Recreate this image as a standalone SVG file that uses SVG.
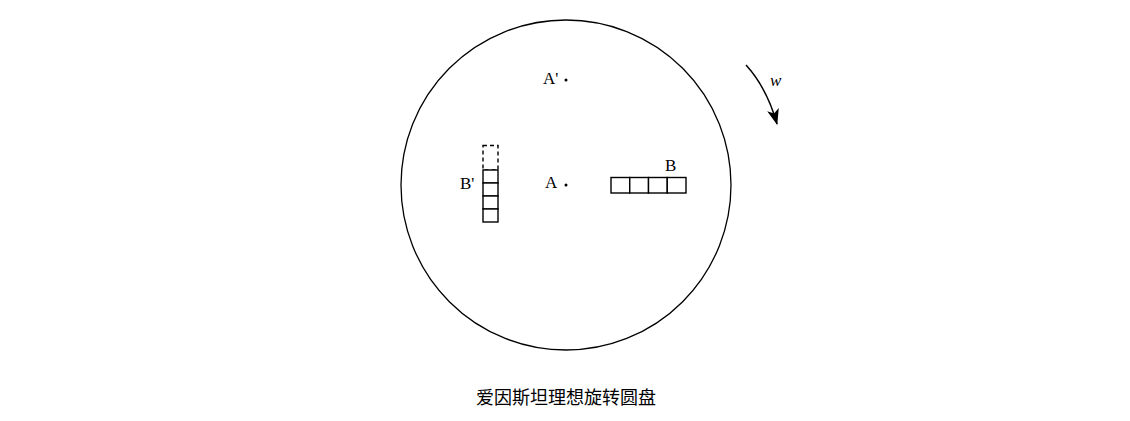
<svg xmlns="http://www.w3.org/2000/svg" width="1130" height="421" viewBox="0 0 1130 421">
<style>
.l{font-family:"Liberation Serif","DejaVu Serif",serif;font-size:17px;fill:#000}
.s{fill:#fff;stroke:#000;stroke-width:1.4}
.d{fill:none;stroke:#000;stroke-width:1.4;stroke-dasharray:4,3}
</style>
<defs>
<marker id="ah" viewBox="0 0 16 12" refX="15" refY="6" markerWidth="16" markerHeight="12" markerUnits="userSpaceOnUse" orient="auto">
<path d="M0,0 L16,6 L0,12 L4,6 Z" fill="#000"/>
</marker>
</defs>
<rect width="1130" height="421" fill="#fff"/>
<g id="disk">
<circle cx="566" cy="185" r="165" fill="none" stroke="#000" stroke-width="1.3"/>
</g>
<g id="pointA1">
<text class="l" x="543" y="84">A'</text>
<circle cx="566" cy="80" r="1.5" fill="#000"/>
</g>
<g id="pointA">
<text class="l" x="545" y="188">A</text>
<circle cx="566" cy="185" r="1.5" fill="#000"/>
</g>
<g id="rodB1">
<text class="l" x="460" y="189">B'</text>
<rect class="d" x="483" y="145.5" width="15" height="24.5"/>
<rect class="s" x="483" y="170" width="15" height="13"/>
<rect class="s" x="483" y="183" width="15" height="13"/>
<rect class="s" x="483" y="196" width="15" height="13"/>
<rect class="s" x="483" y="209" width="15" height="13"/>
</g>
<g id="rodB">
<text class="l" x="665" y="171">B</text>
<rect class="s" x="611" y="177.5" width="18.75" height="15.5"/>
<rect class="s" x="629.75" y="177.5" width="18.75" height="15.5"/>
<rect class="s" x="648.5" y="177.5" width="18.75" height="15.5"/>
<rect class="s" x="667.25" y="177.5" width="18.75" height="15.5"/>
</g>
<g id="connectors">
<path d="M746,65 Q767,88 777,124" fill="none" stroke="#000" stroke-width="1.5" marker-end="url(#ah)"/>
</g>
<g id="omega">
<text class="l" x="770" y="86" font-style="italic" font-size="16">w</text>
</g>
<g id="caption">
<text x="566" y="404" text-anchor="middle" font-family="'Noto Sans CJK SC',sans-serif" font-size="18">爱因斯坦理想旋转圆盘</text>
</g>
</svg>
